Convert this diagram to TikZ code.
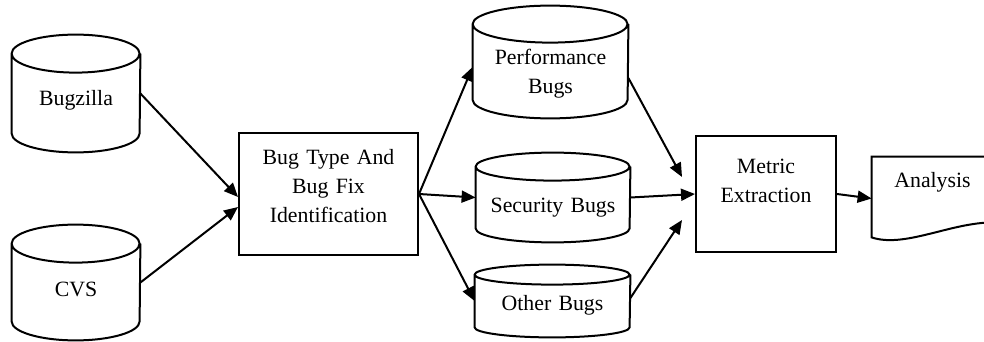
\documentclass[tikz,border=0pt]{standalone}
\usepackage{fontspec}
\setmainfont{Liberation Serif}
\usepackage{tikz}
\usetikzlibrary{arrows.meta}

\tikzset{
  line/.style={line width=1pt},
  arr/.style={line width=1pt, -{Triangle[length=7pt,width=6pt]}},
  store/.style={inner sep=0pt, align=center},
  procbox/.style={draw, line width=1pt, inner sep=0pt, align=center},
  docnode/.style={inner sep=0pt, align=center}
}

% cilindro de datos alrededor de un nodo
\newcommand{\drawstore}[3]{%
  \draw[line] ([yshift=-#3]#1.north west)
    arc[start angle=180, end angle=360, x radius=#2, y radius=#3]
    arc[start angle=0, end angle=180, x radius=#2, y radius=#3]
    -- ([yshift=#3]#1.south west)
    arc[start angle=180, end angle=360, x radius=#2, y radius=#3]
    -- ([yshift=-#3]#1.north east);}

\begin{document}
\begin{tikzpicture}[x=0.5pt, y=-0.5pt, font=\fontsize{10.9}{14.5}\selectfont]
  \useasboundingbox (0,0) rectangle (984,342);

  % fuentes
  \node[store, text width=64pt, text height=35pt, text depth=23.5pt] (bugzilla) at (76,93.5) {Bugzilla};
  \node[store, text width=64pt, text height=35.5pt, text depth=22pt] (cvs) at (76,282.5) {CVS};

  \node[procbox, text width=89.5pt, text height=15.5pt, text depth=45.5pt] (bugtype) at (328.5,194) {Bug Type And\\Bug Fix\\Identification};

  % tipos de fallos
  \node[store, text width=77.5pt, text height=29.5pt, text depth=26.5pt] (perfbugs) at (550.5,62) {Performance\\Bugs};
  \node[store, text width=77pt, text height=29.5pt, text depth=15pt] (secbugs) at (553,197.5) {Security Bugs};
  \node[store, text width=77.5pt, text height=22.5pt, text depth=13.5pt] (otherbugs) at (552.5,301) {Other Bugs};

  \node[procbox, text width=70pt, text height=18.5pt, text depth=39.5pt] (metric) at (766,194) {Metric\\Extraction};
  \node[docnode, text width=60.5pt, text height=15pt, text depth=26.5pt] (analysis) at (932.5,198.5) {Analysis};

  \foreach \n/\rx/\ry in {bugzilla/32pt/9.5pt, cvs/32pt/9.5pt, perfbugs/38.75pt/9.25pt,
                          secbugs/38.5pt/7pt, otherbugs/38.75pt/5pt} {
    \drawstore{\n}{\rx}{\ry}
  }

  % documento
  \draw[line] (analysis.north west) -- (analysis.north east) -- ([yshift=9pt]analysis.south east)
    .. controls ([xshift=-21.5pt,yshift=9pt]analysis.south east) and ([xshift=16.5pt,yshift=-4pt]analysis.south west)
    .. ([yshift=1.5pt]analysis.south west) -- cycle;

  \draw[arr] (bugzilla.east) -- ([yshift=-1.5pt]bugtype.west);
  \draw[arr] (cvs.east) -- ([yshift=-6.5pt]bugtype.west);
  \draw[arr] (bugtype.east) -- ([yshift=-2.5pt]perfbugs.west);
  \draw[arr] (bugtype.east) -- (secbugs.west);
  \draw[arr] (bugtype.east) -- (otherbugs.west);
  \draw[arr] ([yshift=-8pt]perfbugs.east) -- ([xshift=-6.5pt,yshift=8.5pt]metric.west);
  \draw[arr] (secbugs.east) -- (metric.west);
  \draw[arr] ([yshift=1.5pt]otherbugs.east) -- ([xshift=-6.5pt,yshift=-13pt]metric.west);
  \draw[arr] (metric.east) -- (analysis.west);
\end{tikzpicture}
\end{document}
